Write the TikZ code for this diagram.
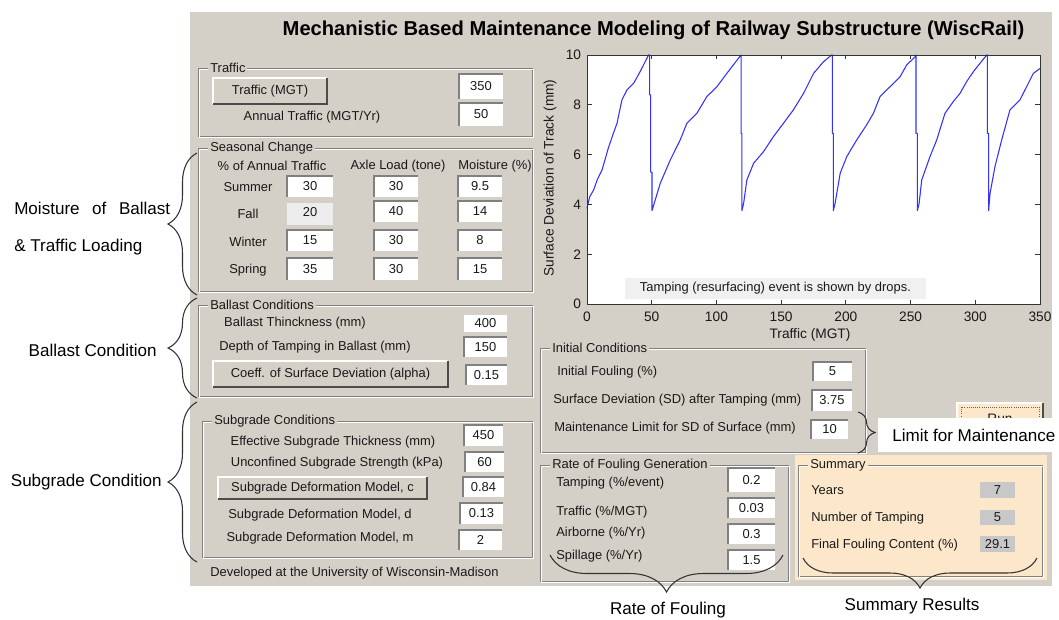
\documentclass[tikz,border=0pt]{standalone}
\usepackage{fontspec}
\setmainfont{Liberation Sans}
\usetikzlibrary{decorations.pathreplacing}
\definecolor{guigray}{HTML}{D4D0C8}
\definecolor{edark}{HTML}{808080}
\definecolor{peach}{HTML}{FCE7CA}
\definecolor{valgray}{HTML}{C8C8C8}
\definecolor{fallgray}{HTML}{EDEDED}
\definecolor{notegray}{HTML}{F0F0F0}
\definecolor{curveblue}{RGB}{50,50,255}
\tikzset{
  gui/.style={font=\fontsize{9.7}{11}\selectfont, inner sep=0pt, text=black!90},
  tick/.style={font=\fontsize{10.3}{12}\selectfont, inner sep=0pt, text=black!90},
  ann/.style={font=\fontsize{12.8}{15}\selectfont, inner sep=0pt},
  ttl/.style={font=\bfseries\fontsize{15.1}{17}\selectfont, inner sep=0pt},
  brc/.style={decorate, decoration={brace, amplitude=#1}, draw=black!80, line width=0.8pt},
}
% edit box: name, x1, y1, x2, y2, text
\newcommand\ebox[6]{%
  \fill[white] (#2,#3) rectangle (#4,#5);
  \draw[edark, line width=1.5pt] (#2,#5) -- (#2,#3) -- (#4,#3);
  \node[gui] (#1) at ({(#2+#4)/2},{(#3+#5)/2}) {#6};
}
% button: name, x1, y1, x2, y2, text
\newcommand\gbutton[6]{%
  \fill[guigray] (#2,#3) rectangle (#4,#5);
  \draw[white, line width=1.2pt] (#2,#5) -- (#2,#3) -- (#4,#3);
  \draw[black!70, line width=1.5pt] (#2,#5) -- (#4,#5) -- (#4,#3);
  \node[gui] (#1) at ({(#2+#4)/2},{(#3+#5)/2}) {#6};
}
% group frame: name, x1, y1, x2, y2, title, title fill
\newcommand\gframe[7]{%
  \draw[edark, line width=0.75pt] (#2,#3) rectangle (#4-1,#5-1);
  \draw[white, line width=0.75pt] (#2+1,#3+1) rectangle (#4,#5);
  \node[gui, fill=#7, inner xsep=1.5pt, inner ysep=1pt, anchor=west] (#1) at (#2+10,#3) {#6};
}
\begin{document}
\begin{tikzpicture}[x=0.75pt, y=-0.75pt]
\useasboundingbox (0,0) rectangle (1059,619);
\fill[white] (0,0) rectangle (1059,619);
% GUI background
\fill[guigray] (190,12) rectangle (1052,586);
\node[ttl] (title) at (653.5,30) {Mechanistic Based Maintenance Modeling of Railway Substructure (WiscRail)};

% Traffic
\gframe{fTraffic}{198}{68}{533}{137}{Traffic}{guigray}
\gbutton{bTraffic}{213}{78}{327}{104}{Traffic (MGT)}
\node[gui] (lAnnual) at (312,117) {Annual Traffic (MGT/Yr)};
\ebox{e350}{459}{74}{503}{99}{350}
\ebox{e50}{459}{103}{503}{126}{50}

% Seasonal change
\gframe{fSeason}{198}{148}{533}{292}{Seasonal Change}{guigray}
\node[gui] (hPct) at (272,166) {\% of Annual Traffic};
\node[gui] (hAxle) at (398,166) {Axle Load (tone)};
\node[gui] (hMoist) at (495,166) {Moisture (\%)};
\node[gui] (rSummer) at (248,187) {Summer};
\node[gui] (rFall) at (248,214) {Fall};
\node[gui] (rWinter) at (248,242) {Winter};
\node[gui] (rSpring) at (248,270) {Spring};
\ebox{sA1}{287}{176}{333}{197}{30}
\ebox{sB1}{374}{176}{418}{197}{30}
\ebox{sC1}{458}{176}{502}{197}{9.5}
\fill[fallgray] (287,203) rectangle (333,225);
\node[gui] (sA2) at (310,212) {20};
\ebox{sB2}{374}{201}{418}{222}{40}
\ebox{sC2}{458}{201}{502}{222}{14}
\ebox{sA3}{287}{230}{333}{251}{15}
\ebox{sB3}{374}{230}{418}{251}{30}
\ebox{sC3}{458}{230}{502}{251}{8}
\ebox{sA4}{287}{258}{333}{280}{35}
\ebox{sB4}{374}{258}{418}{280}{30}
\ebox{sC4}{458}{258}{502}{280}{15}

% Ballast conditions
\gframe{fBallast}{198}{305}{533}{397}{Ballast Conditions}{guigray}
\node[gui] (lBT) at (295,323) {Ballast Thinckness (mm)};
\fill[white] (464,315) rectangle (507,332);
\node[gui] (e400) at (485.5,323.5) {400};
\node[gui] (lDepth) at (315,347) {Depth of Tamping in Ballast (mm)};
\ebox{e150}{464}{337}{507}{357}{150}
\gbutton{bCoeff}{213}{361}{448}{387}{Coeff. of Surface Deviation (alpha)}
\ebox{e015}{466}{365}{507}{385}{0.15}

% Subgrade conditions
\gframe{fSub}{202}{421}{533}{558}{Subgrade Conditions}{guigray}
\node[gui] (lEff) at (333,442) {Effective Subgrade Thickness (mm)};
\ebox{e450}{464}{425}{503}{446}{450}
\node[gui] (lUnc) at (337,463) {Unconfined Subgrade Strength (kPa)};
\ebox{e60}{465}{452}{504}{472}{60}
\gbutton{bSubc}{218}{477}{427}{499}{Subgrade Deformation Model, c}
\ebox{e084}{463}{477}{504}{497}{0.84}
\node[gui] (lSubd) at (320,515) {Subgrade Deformation Model, d};
\ebox{e013}{460}{503}{503}{524}{0.13}
\node[gui] (lSubm) at (320,538) {Subgrade Deformation Model, m};
\ebox{e2}{459}{530}{502}{550}{2}
\node[gui, anchor=west] (lDev) at (210,573) {Developed at the University of Wisconsin-Madison};

% Plot
\begin{scope}[xshift=440.25pt, yshift=-228pt, x=0.97071pt, y=18.675pt]
  \fill[white] (0,0) rectangle (350,10);
  \fill[notegray] (29.4,0.2) rectangle (261.9,1.04);
  \node[gui] (note) at (145.6,0.62) {Tamping (resurfacing) event is shown by drops.};
  \draw[curveblue, line width=0.8pt, line join=round]
    (0,3.84) -- (2,4.3) -- (5.1,4.58) -- (8,5.0) -- (11.6,5.38) -- (16.7,6.3) -- (20,6.8) -- (23.2,7.26)
    -- (27,8.2) -- (30.9,8.6) -- (36,8.86) -- (41,9.33) -- (46.3,9.87) -- (47.6,10) -- (48.4,10)
    -- (48.4,8.4) -- (49.2,8.4) -- (49.2,5.3) -- (50.2,5.3) -- (50.2,3.75) -- (51.5,3.97)
    -- (56.6,4.85) -- (64.3,5.78) -- (72,6.59) -- (77.2,7.26) -- (84.9,7.66) -- (92.6,8.33)
    -- (100.4,8.73) -- (108,9.26) -- (118.4,9.96) -- (119.1,10) -- (119.1,6.85) -- (119.7,6.85)
    -- (119.7,3.75) -- (121,4.04) -- (123.5,4.98) -- (128.7,5.65) -- (136.4,6.12) -- (144,6.72)
    -- (151.8,7.26) -- (159.5,7.8) -- (167.3,8.46) -- (175,9.26) -- (182.7,9.73) -- (189,10)
    -- (189.6,10) -- (189.6,6.85) -- (190.3,6.85) -- (190.3,3.75) -- (191.7,4.04) -- (195.6,5.25)
    -- (200.7,5.92) -- (208.4,6.59) -- (216,7.19) -- (221.3,7.66) -- (226.4,8.33) -- (234.2,8.73)
    -- (241.9,9.13) -- (247,9.6) -- (253.5,9.93) -- (254.2,10) -- (254.2,6.85) -- (255.2,6.85)
    -- (255.2,3.75) -- (256.6,4.04) -- (258.6,4.98) -- (265,5.92) -- (270.2,6.59) -- (276.6,7.66)
    -- (283,8.13) -- (288.2,8.46) -- (293.3,8.93) -- (298.5,9.33) -- (303.7,9.67) -- (308.8,10)
    -- (309.3,10) -- (309.3,6.85) -- (310.3,6.85) -- (310.3,3.75) -- (311.4,4.44) -- (315.2,5.52)
    -- (320.4,6.59) -- (326.8,7.8) -- (334.5,8.2) -- (339.7,8.73) -- (344.8,9.26) -- (350,9.46);
  \draw[black!80, line width=0.6pt] (0,0) rectangle (350,10);
  \foreach \xv in {0,50,...,350} {
    \draw[black!80, line width=0.6pt] (\xv,0) -- ++(0,0.18) (\xv,10) -- ++(0,-0.18);
    \node[tick] (xt\xv) at (\xv,-0.52) {\xv};
  }
  \foreach \yv in {0,2,...,10} {
    \draw[black!80, line width=0.6pt] (0,\yv) -- ++(3.5,0) (350,\yv) -- ++(-3.5,0);
    \node[tick, anchor=east] (yt\yv) at (-4.4,\yv) {\yv};
  }
  \node[tick] (xlab) at (172.3,-1.25) {Traffic (MGT)};
  \node[tick, rotate=90] (ylab) at (-28.6,5.06) {Surface Deviation of Track (mm)};
\end{scope}

% Initial conditions
\gframe{fInit}{540}{348}{866}{453}{Initial Conditions}{guigray}
\node[gui, anchor=west] (lIF) at (557,372) {Initial Fouling (\%)};
\ebox{e5}{813}{362}{852}{381}{5}
\node[gui, anchor=west] (lSD) at (553,400) {Surface Deviation (SD) after Tamping (mm)};
\ebox{e375}{812}{390}{852}{411}{3.75}
\node[gui, anchor=west] (lML) at (554,428) {Maintenance Limit for SD of Surface (mm)};
\ebox{e10}{811}{420}{848}{439}{10}

% Run button (partly hidden behind the annotation box)
\fill[peach] (957,403) rectangle (1043,445);
\draw[white, line width=1.2pt] (957,445) -- (957,403) -- (1043,403);
\draw[black!70, line width=1.5pt] (957,445) -- (1043,445) -- (1043,403);
\draw[black!60, densely dotted, line width=0.6pt] (961,407) rectangle (1039,441);
\begin{scope}
  \clip (957,403) rectangle (1043,418);
  \node[tick] (bRun) at (1000,419) {Run};
\end{scope}

% Rate of fouling generation
\gframe{fRate}{540}{465}{789}{582}{Rate of Fouling Generation}{guigray}
\node[gui, anchor=west] (lTamp) at (556,483) {Tamping (\%/event)};
\ebox{e02}{728}{468}{775}{492}{0.2}
\node[gui, anchor=west] (lTraf) at (556,512) {Traffic (\%/MGT)};
\ebox{e003}{728}{498}{775}{518}{0.03}
\node[gui, anchor=west] (lAir) at (556,533) {Airborne (\%/Yr)};
\ebox{e03}{728}{524}{775}{544}{0.3}
\node[gui, anchor=west] (lSpill) at (556,556) {Spillage (\%/Yr)};
\ebox{e15}{728}{550}{775}{570}{1.5}

% Summary
\fill[peach] (795,455) rectangle (1047,580);
\gframe{fSum}{798}{465}{1043}{577}{Summary}{peach}
\node[gui, anchor=west] (lYears) at (811,490) {Years};
\fill[valgray] (980,482) rectangle (1015,498);
\node[gui] (vYears) at (997.5,490) {7};
\node[gui, anchor=west] (lNum) at (811,518) {Number of Tamping};
\fill[valgray] (980,510) rectangle (1015,525);
\node[gui] (vNum) at (997.5,517.5) {5};
\node[gui, anchor=west] (lFinal) at (811,545) {Final Fouling Content (\%)};
\fill[valgray] (980,536) rectangle (1015,552);
\node[gui] (vFinal) at (997.5,544) {29.1};

% Limit for maintenance annotation
\fill[white] (878,418) rectangle (1059,452);
\node[ann, anchor=west] (aLimit) at (892,435) {Limit for Maintenance};
\coordinate (kLa) at (858,412);
\coordinate (kLb) at (858,453);
\draw[brc=12.75pt] (kLa) -- (kLb);

% Left annotations
\coordinate (k1a) at (197,295);
\coordinate (k1b) at (197,153);
\draw[brc=21.75pt] (k1a) -- (k1b);
\coordinate (k2a) at (197,398);
\coordinate (k2b) at (197,298);
\draw[brc=21.75pt] (k2a) -- (k2b);
\coordinate (k3a) at (197,562);
\coordinate (k3b) at (197,402);
\draw[brc=21.75pt] (k3a) -- (k3b);
\node[ann, anchor=west] (aMoist) at (14,208) {\hbox to 117pt{Moisture\hfill of\hfill Ballast}};
\node[ann, anchor=west] (aTraffic) at (14,247) {\& Traffic Loading};
\node[ann, anchor=east] (aBallast) at (157,350) {Ballast Condition};
\node[ann, anchor=east] (aSub) at (162,482) {Subgrade Condition};

% Bottom annotations
\coordinate (kRa) at (783,555);
\coordinate (kRb) at (550,555);
\draw[brc=27.75pt] (kRa) -- (kRb);
\coordinate (kSa) at (1037,558);
\coordinate (kSb) at (803,558);
\draw[brc=22.5pt] (kSa) -- (kSb);
\node[ann] (aRate) at (668,610) {Rate of Fouling};
\node[ann] (aSumm) at (912,606) {Summary Results};
\end{tikzpicture}
\end{document}
